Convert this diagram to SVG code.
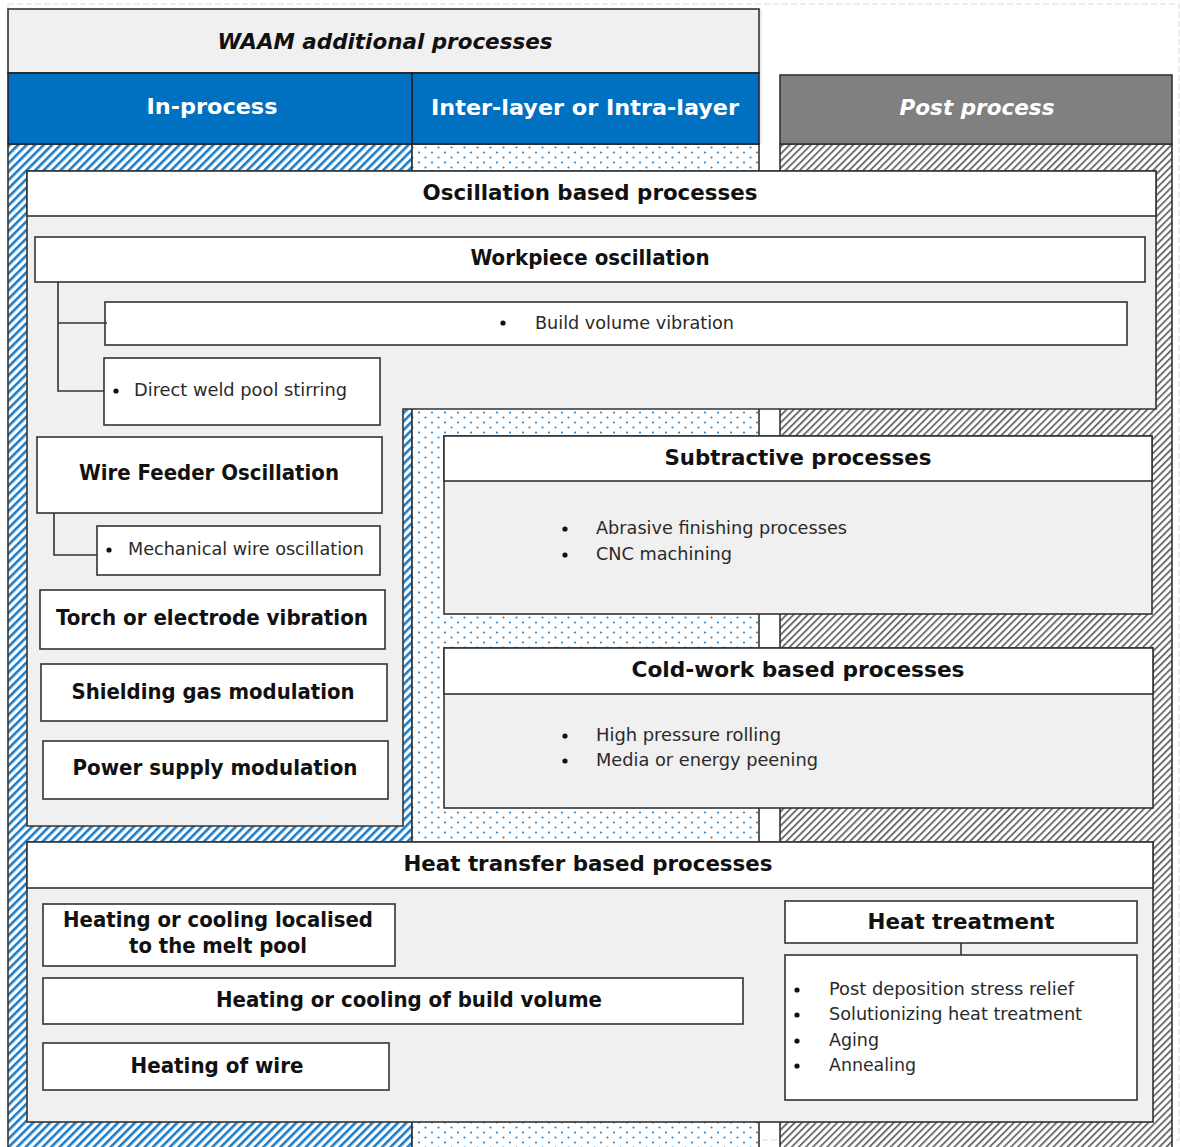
<svg xmlns="http://www.w3.org/2000/svg" width="1180" height="1147" viewBox="0 0 1180 1147">
  <defs>
    <pattern id="blueHatch" width="6" height="6" patternUnits="userSpaceOnUse" patternTransform="rotate(45)">
      <rect width="6" height="6" fill="#ffffff"/>
      <rect x="0" y="0" width="2.6" height="6" fill="#1a7cc8"/>
    </pattern>
    <pattern id="grayHatch" width="5" height="5" patternUnits="userSpaceOnUse" patternTransform="rotate(45)">
      <rect width="5" height="5" fill="#ffffff"/>
      <rect x="0" y="0" width="1.6" height="5" fill="#555555"/>
    </pattern>
    <pattern id="dots" width="13" height="10" patternUnits="userSpaceOnUse">
      <rect width="13" height="10" fill="#ffffff"/>
      <circle cx="3" cy="2.5" r="1.1" fill="#2a8ad4"/>
      <circle cx="9.5" cy="7.5" r="1.1" fill="#2a8ad4"/>
    </pattern>
  </defs>
  <style>
    .box { fill: #ffffff; stroke: #333333; stroke-width: 1.6; }
    .body { fill: #f0f0f0; stroke: #333333; stroke-width: 1.6; }
    .col { stroke: #333333; stroke-width: 1.6; }
    .conn { fill: none; stroke: #333333; stroke-width: 1.6; }
    text { font-family: "DejaVu Sans Condensed", "DejaVu Sans", sans-serif; fill: #111111; dominant-baseline: central; }
    .h1 { font-size: 22px; font-weight: bold; text-anchor: middle; }
    .h2 { font-size: 21px; font-weight: bold; text-anchor: middle; }
    .hw { font-size: 22px; font-weight: bold; fill: #ffffff; text-anchor: middle; }
    .item { font-size: 17px; fill: #2a2a2a; }
    .bul { fill: #111111; }
  </style>

  <!-- faint frame -->
  <rect x="8" y="4" width="1171" height="1136" fill="none" stroke="#d9d9d9" stroke-width="1" stroke-dasharray="6 3"/>
  <line x1="761" y1="9" x2="761" y2="144" stroke="#d9d9d9" stroke-width="1"/>

  <!-- column backgrounds -->
  <g id="columns">
    <rect class="col" x="8" y="144" width="404" height="1010" fill="url(#blueHatch)"/>
    <rect class="col" x="412" y="144" width="347" height="1010" fill="url(#dots)"/>
    <rect class="col" x="780" y="144" width="392" height="1010" fill="url(#grayHatch)"/>
  </g>

  <!-- headers -->
  <g id="title">
    <rect x="8" y="9" width="751" height="64" fill="#f0f0f0" stroke="#333333" stroke-width="1.6"/>
    <text x="385" y="41" class="h1" font-style="italic" textLength="335" lengthAdjust="spacingAndGlyphs">WAAM additional processes</text>
  </g>
  <g id="in-process">
    <rect x="8" y="73" width="404" height="71" fill="#0070c0" stroke="#222222" stroke-width="1.6"/>
    <text x="212" y="106" class="hw" textLength="131" lengthAdjust="spacingAndGlyphs">In-process</text>
  </g>
  <g id="inter-layer">
    <rect x="412" y="73" width="347" height="71" fill="#0070c0" stroke="#222222" stroke-width="1.6"/>
    <text x="585" y="107" class="hw" textLength="308" lengthAdjust="spacingAndGlyphs">Inter-layer or Intra-layer</text>
  </g>
  <g id="post-process">
    <rect x="780" y="75" width="392" height="69" fill="#808080" stroke="#333333" stroke-width="1.6"/>
    <text x="977" y="107" class="hw" font-weight="normal" font-style="italic" textLength="155" lengthAdjust="spacingAndGlyphs">Post process</text>
  </g>

  <!-- Oscillation based processes container -->
  <g id="oscillation">
    <path class="body" d="M27 171 H1156 V409 H403 V826 H27 Z"/>
    <rect class="box" x="27" y="171" width="1129" height="45"/>
    <text x="590" y="192" class="h1" textLength="335" lengthAdjust="spacingAndGlyphs">Oscillation based processes</text>
  </g>

  <g id="workpiece-oscillation">
    <rect class="box" x="35" y="237" width="1110" height="45"/>
    <text x="590" y="258" class="h2" textLength="239" lengthAdjust="spacingAndGlyphs">Workpiece oscillation</text>
  </g>
  <g id="build-volume-vibration">
    <rect class="box" x="105" y="302" width="1022" height="43"/>
    <circle class="bul" cx="503" cy="323" r="2.6"/>
    <text x="535" y="323" class="item" textLength="199" lengthAdjust="spacingAndGlyphs">Build volume vibration</text>
  </g>
  <g id="direct-weld-pool-stirring">
    <rect class="box" x="104" y="358" width="276" height="67"/>
    <circle class="bul" cx="116" cy="391" r="2.6"/>
    <text x="134" y="390" class="item" textLength="213" lengthAdjust="spacingAndGlyphs">Direct weld pool stirring</text>
  </g>
  <g id="wire-feeder-oscillation">
    <rect class="box" x="37" y="437" width="345" height="76"/>
    <text x="209" y="473" class="h2" textLength="260" lengthAdjust="spacingAndGlyphs">Wire Feeder Oscillation</text>
  </g>
  <g id="mechanical-wire-oscillation">
    <rect class="box" x="97" y="526" width="283" height="49"/>
    <circle class="bul" cx="109" cy="550" r="2.6"/>
    <text x="128" y="549" class="item" textLength="236" lengthAdjust="spacingAndGlyphs">Mechanical wire oscillation</text>
  </g>
  <g id="torch-vibration">
    <rect class="box" x="40" y="590" width="345" height="59"/>
    <text x="212" y="618" class="h2" textLength="312" lengthAdjust="spacingAndGlyphs">Torch or electrode vibration</text>
  </g>
  <g id="shielding-gas-modulation">
    <rect class="box" x="41" y="664" width="346" height="57"/>
    <text x="213" y="692" class="h2" textLength="283" lengthAdjust="spacingAndGlyphs">Shielding gas modulation</text>
  </g>
  <g id="power-supply-modulation">
    <rect class="box" x="43" y="741" width="345" height="58"/>
    <text x="215" y="768" class="h2" textLength="285" lengthAdjust="spacingAndGlyphs">Power supply modulation</text>
  </g>

  <!-- Subtractive -->
  <g id="subtractive">
    <rect class="body" x="444" y="436" width="708" height="178"/>
    <rect class="box" x="444" y="436" width="708" height="45"/>
    <text x="798" y="457" class="h1" textLength="267" lengthAdjust="spacingAndGlyphs">Subtractive processes</text>
    <circle class="bul" cx="565" cy="529" r="2.6"/>
    <text x="596" y="528" class="item" textLength="251" lengthAdjust="spacingAndGlyphs">Abrasive finishing processes</text>
    <circle class="bul" cx="565" cy="555" r="2.6"/>
    <text x="596" y="554" class="item" textLength="136" lengthAdjust="spacingAndGlyphs">CNC machining</text>
  </g>

  <!-- Cold-work -->
  <g id="cold-work">
    <rect class="body" x="444" y="648" width="709" height="160"/>
    <rect class="box" x="444" y="648" width="709" height="46"/>
    <text x="798" y="669" class="h1" textLength="333" lengthAdjust="spacingAndGlyphs">Cold-work based processes</text>
    <circle class="bul" cx="565" cy="736" r="2.6"/>
    <text x="596" y="735" class="item" textLength="185" lengthAdjust="spacingAndGlyphs">High pressure rolling</text>
    <circle class="bul" cx="565" cy="761" r="2.6"/>
    <text x="596" y="760" class="item" textLength="222" lengthAdjust="spacingAndGlyphs">Media or energy peening</text>
  </g>

  <!-- Heat transfer -->
  <g id="heat-transfer">
    <rect class="body" x="27" y="842" width="1126" height="280"/>
    <rect class="box" x="27" y="842" width="1126" height="46"/>
    <text x="588" y="863" class="h1" textLength="369" lengthAdjust="spacingAndGlyphs">Heat transfer based processes</text>
  </g>
  <g id="heating-melt-pool">
    <rect class="box" x="43" y="904" width="352" height="62"/>
    <text x="218" y="920" class="h2" textLength="310" lengthAdjust="spacingAndGlyphs">Heating or cooling localised</text>
    <text x="218" y="946" class="h2" textLength="178" lengthAdjust="spacingAndGlyphs">to the melt pool</text>
  </g>
  <g id="heating-build-volume">
    <rect class="box" x="43" y="978" width="700" height="46"/>
    <text x="409" y="1000" class="h2" textLength="386" lengthAdjust="spacingAndGlyphs">Heating or cooling of build volume</text>
  </g>
  <g id="heating-wire">
    <rect class="box" x="43" y="1043" width="346" height="47"/>
    <text x="217" y="1066" class="h2" textLength="173" lengthAdjust="spacingAndGlyphs">Heating of wire</text>
  </g>
  <g id="heat-treatment">
    <rect class="box" x="785" y="901" width="352" height="42"/>
    <text x="961" y="922" class="h2" textLength="187" lengthAdjust="spacingAndGlyphs">Heat treatment</text>
  </g>
  <g id="heat-treatment-list">
    <rect class="box" x="785" y="955" width="352" height="145"/>
    <circle class="bul" cx="797" cy="990" r="2.6"/>
    <text x="829" y="989" class="item" textLength="245" lengthAdjust="spacingAndGlyphs">Post deposition stress relief</text>
    <circle class="bul" cx="797" cy="1015" r="2.6"/>
    <text x="829" y="1014" class="item" textLength="253" lengthAdjust="spacingAndGlyphs">Solutionizing heat treatment</text>
    <circle class="bul" cx="797" cy="1041" r="2.6"/>
    <text x="829" y="1040" class="item" textLength="50" lengthAdjust="spacingAndGlyphs">Aging</text>
    <circle class="bul" cx="797" cy="1066" r="2.6"/>
    <text x="829" y="1065" class="item" textLength="87" lengthAdjust="spacingAndGlyphs">Annealing</text>
  </g>

  <!-- connectors -->
  <g id="connectors">
    <path class="conn" d="M58 282 V391 H104"/>
    <path class="conn" d="M58 323 H107"/>
    <path class="conn" d="M54 513 V555 H97"/>
    <path class="conn" d="M961 943 V955"/>
  </g>
</svg>
